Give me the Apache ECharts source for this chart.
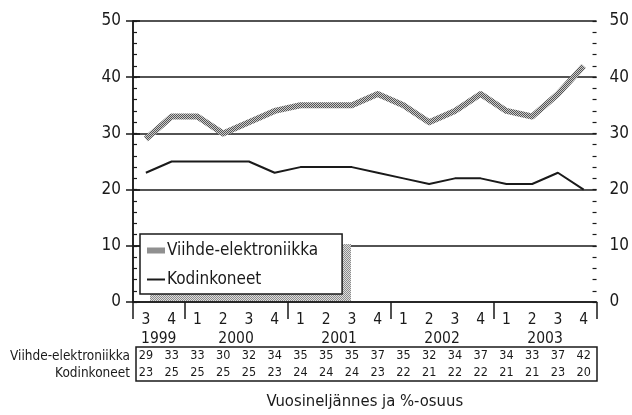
<!DOCTYPE html>
<html>
<head>
<meta charset="utf-8">
<script src="https://cdn.jsdelivr.net/npm/echarts@6/dist/echarts.min.js"></script>
<style>
  html, body { margin: 0; padding: 0; background: #fff; }
  #chart { width: 632px; height: 415px; }
</style>
</head>
<body>
<div id="chart"></div>
<script>
// quarter of each point and its year
var quarters = ["3", "4", "1", "2", "3", "4", "1", "2", "3", "4", "1", "2", "3", "4", "1", "2", "3", "4"];
var years = ["1999", "1999", "2000", "2000", "2000", "2000", "2001", "2001", "2001", "2001",
             "2002", "2002", "2002", "2002", "2003", "2003", "2003", "2003"];
var seriesNames = ["Viihde-elektroniikka", "Kodinkoneet"];
var viihde = [29, 33, 33, 30, 32, 34, 35, 35, 35, 37, 35, 32, 34, 37, 34, 33, 37, 42];
var kodinkoneet = [23, 25, 25, 25, 25, 23, 24, 24, 24, 23, 22, 21, 22, 22, 21, 21, 23, 20];
var axisTitle = "Vuosineljännes ja %-osuus";

var font = "'DejaVu Sans Condensed', 'Liberation Sans Narrow', 'Liberation Sans', sans-serif";
var black = "#1a1a1a";

// dotted grey fill like the print raster
function raster(dark, light) {
  var c = document.createElement("canvas");
  c.width = 2; c.height = 2;
  var ctx = c.getContext("2d");
  ctx.fillStyle = light; ctx.fillRect(0, 0, 2, 2);
  ctx.fillStyle = dark; ctx.fillRect(0, 0, 1, 1); ctx.fillRect(1, 1, 1, 1);
  return { image: c, repeat: "repeat" };
}
var grey = raster("#555555", "#cccccc");
var shadowGrey = raster("#8c8c8c", "#dedede");

// year boundaries (in category units) and centres
var yearBounds = [0];
var yearCentres = [];
var yearNames = [];
for (var i = 1; i <= years.length; i++) {
  if (i === years.length || years[i] !== years[i - 1]) {
    var start = yearBounds[yearBounds.length - 1];
    yearCentres.push((start + i) / 2);
    yearNames.push(years[i - 1]);
    yearBounds.push(i);
  }
}
var cellCentres = quarters.map(function (q, i) { return i + 0.5; });

function tableAxis(values, offset) {
  return {
    type: "value", gridIndex: 0, position: "bottom", offset: offset,
    min: 0, max: quarters.length,
    axisLine: { show: false },
    axisTick: { show: false },
    splitLine: { show: false },
    axisLabel: {
      customValues: cellCentres, margin: 2,
      fontFamily: font, fontSize: 12.5, color: black,
      formatter: function (v) { return values[Math.floor(v)]; }
    }
  };
}

function minorAxis(pos) {
  return {
    type: "value", position: pos, min: 0, max: 50, interval: 2,
    axisLine: { show: false },
    axisTick: { show: true, inside: true, length: 4, lineStyle: { color: black, width: 1.2 } },
    axisLabel: { show: false },
    splitLine: { show: false }
  };
}

function mainYAxis(pos) {
  return {
    type: "value", position: pos, min: 0, max: 50, interval: 10,
    axisLine: { show: true, lineStyle: { color: black, width: 1.5 } },
    axisTick: { show: true, length: 7, lineStyle: { color: black, width: 1.5 } },
    axisLabel: { fontFamily: font, fontSize: 17, color: black, margin: pos === "left" ? 12 : 13 },
    splitLine: { show: pos === "left", lineStyle: { color: black, width: 1.5 } }
  };
}

function rowName(text, y) {
  return {
    type: "text", z: 5, x: 130, y: y,
    style: { text: text, fill: black, font: "13.5px " + font, align: "right", verticalAlign: "middle" }
  };
}

var chart = echarts.init(document.getElementById("chart"));
chart.setOption({
  backgroundColor: "#fff",
  animation: false,
  grid: { left: 133, right: 33, top: 21, bottom: 113 },
  legend: {
    orient: "vertical",
    left: 140, top: 234,
    padding: [8, 24, 6, 7],
    itemGap: 12,
    itemWidth: 18, itemHeight: 6,
    backgroundColor: "#fff",
    borderColor: black, borderWidth: 1.5,
    z: 6,
    textStyle: { fontFamily: font, fontSize: 17, color: black, padding: [0, 0, 0, -3] },
    data: [
      { name: seriesNames[0], icon: "path://M0,0L18,0L18,6L0,6Z", itemStyle: { color: grey, borderWidth: 0 } },
      { name: seriesNames[1], icon: "path://M0,0L18,0L18,2L0,2Z", itemStyle: { color: black, borderWidth: 0 } }
    ]
  },
  graphic: [
    { type: "rect", z: 5, shape: { x: 150, y: 244, width: 201, height: 57 }, style: { fill: shadowGrey } },
    { type: "rect", z: 5, shape: { x: 136, y: 347, width: 461, height: 34 }, style: { fill: null, stroke: black, lineWidth: 1.5 } },
    rowName(seriesNames[0], 356),
    rowName(seriesNames[1], 373)
  ],
  xAxis: [
    {
      type: "category", data: quarters, boundaryGap: true,
      name: axisTitle, nameLocation: "middle", nameGap: 91,
      nameTextStyle: { fontFamily: font, fontSize: 16.5, color: black },
      axisLine: { lineStyle: { color: black, width: 1.5 } },
      axisTick: { show: false },
      axisLabel: { interval: 0, margin: 10, fontFamily: font, fontSize: 15.5, color: black }
    },
    {
      type: "value", gridIndex: 0, position: "bottom", offset: 27,
      min: 0, max: quarters.length,
      axisLine: { show: false },
      splitLine: { show: false },
      axisTick: { show: true, customValues: yearBounds, length: 17, lineStyle: { color: black, width: 1.5 } },
      axisLabel: {
        customValues: yearCentres, margin: 2,
        fontFamily: font, fontSize: 15.5, color: black,
        formatter: function (v) { return yearNames[yearCentres.indexOf(v)]; }
      }
    },
    tableAxis(viihde, 45),
    tableAxis(kodinkoneet, 62)
  ],
  yAxis: [mainYAxis("left"), mainYAxis("right"), minorAxis("left"), minorAxis("right")],
  series: [
    {
      name: seriesNames[0], type: "line", data: viihde,
      symbol: "none", z: 3,
      lineStyle: { color: grey, width: 6, join: "round" },
      itemStyle: { color: grey }
    },
    {
      name: seriesNames[1], type: "line", data: kodinkoneet,
      symbol: "none", z: 4,
      lineStyle: { color: black, width: 2 },
      itemStyle: { color: black }
    }
  ]
});
</script>
</body>
</html>
